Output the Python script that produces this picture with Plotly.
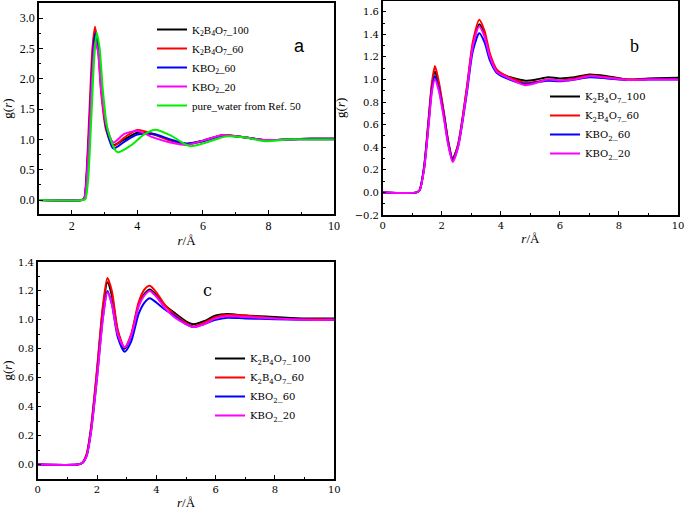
import plotly.graph_objects as go

# ---------------- data ----------------
# panel a
r_a = [1.0, 2.3, 2.38, 2.45, 2.55, 2.63, 2.71, 2.8, 2.9, 3.05, 3.27, 3.6, 4.0, 4.5,
       5.0, 5.5, 6.0, 6.6, 7.2, 7.9, 8.6, 9.3, 10.0]
a_k2b4o7_100 = [0, 0, 0.02, 0.35, 1.35, 2.3, 2.8, 2.55, 1.85, 1.2, 0.91, 1.0, 1.11, 1.08,
                0.99, 0.93, 0.98, 1.07, 1.04, 0.99, 1.0, 1.01, 1.01]
a_k2b4o7_60 = [0, 0, 0.03, 0.45, 1.6, 2.5, 2.86, 2.5, 1.75, 1.15, 0.89, 1.03, 1.155, 1.09,
               0.98, 0.92, 0.97, 1.07, 1.04, 0.99, 1.0, 1.01, 1.01]
a_kbo2_60 = [0, 0, 0.02, 0.35, 1.35, 2.25, 2.74, 2.6, 1.95, 1.2, 0.85, 0.96, 1.08, 1.09,
             1.0, 0.93, 0.97, 1.06, 1.04, 0.99, 1.0, 1.01, 1.01]
a_kbo2_20 = [0, 0, 0.02, 0.3, 1.25, 2.1, 2.6, 2.45, 1.8, 1.25, 0.95, 1.09, 1.14, 1.03,
             0.95, 0.91, 0.98, 1.07, 1.04, 0.99, 1.0, 1.0, 1.0]
r_water = [1.0, 2.35, 2.42, 2.5, 2.6, 2.68, 2.76, 2.85, 2.95, 3.1, 3.39, 3.8, 4.2, 4.55,
           5.0, 5.6, 6.1, 6.7, 7.3, 7.9, 8.6, 9.3, 10.0]
a_water = [0, 0, 0.02, 0.35, 1.4, 2.3, 2.76, 2.5, 1.8, 1.15, 0.79, 0.9, 1.08, 1.16,
           1.07, 0.89, 0.95, 1.05, 1.03, 0.97, 1.0, 1.0, 1.0]

# panel b
r_b = [0, 1.15, 1.25, 1.4, 1.55, 1.67, 1.77, 1.9, 2.07, 2.22, 2.37, 2.55, 2.85, 3.05, 3.27,
       3.45, 3.63, 3.86, 4.2, 4.82, 5.2, 5.6, 6.0, 6.5, 7.0, 7.6, 8.3, 9.0, 10.0]
b_k2b4o7_100 = [0, 0, 0.02, 0.22, 0.62, 0.95, 1.07, 0.95, 0.7, 0.45, 0.30, 0.42, 0.92, 1.3, 1.49,
                1.4, 1.21, 1.08, 1.03, 0.99, 1.0, 1.02, 1.01, 1.02, 1.045, 1.03, 1.0, 1.01, 1.015]
b_k2b4o7_60 = [0, 0, 0.02, 0.22, 0.64, 0.98, 1.12, 0.98, 0.71, 0.45, 0.29, 0.42, 0.93, 1.33, 1.53,
               1.43, 1.23, 1.09, 1.03, 0.97, 0.98, 1.0, 0.99, 1.01, 1.035, 1.02, 1.0, 1.005, 1.005]
b_kbo2_60 = [0, 0, 0.02, 0.21, 0.6, 0.92, 1.03, 0.92, 0.68, 0.43, 0.28, 0.40, 0.88, 1.25, 1.41,
             1.33, 1.17, 1.06, 1.01, 0.96, 0.975, 0.99, 0.985, 1.0, 1.02, 1.01, 0.995, 1.0, 1.0]
b_kbo2_20 = [0, 0, 0.02, 0.2, 0.58, 0.9, 1.0, 0.9, 0.66, 0.42, 0.27, 0.40, 0.9, 1.29, 1.47,
             1.38, 1.2, 1.07, 1.02, 0.95, 0.97, 1.0, 0.99, 1.0, 1.03, 1.015, 0.995, 1.0, 1.0]

# panel c
r_c = [0, 1.35, 1.5, 1.65, 1.8, 2.0, 2.2, 2.35, 2.5, 2.7, 2.93, 3.15, 3.4, 3.6, 3.78, 4.0,
       4.3, 4.6, 5.0, 5.25, 5.6, 6.0, 6.4, 7.0, 8.0, 9.0, 10.0]
c_k2b4o7_100 = [0, 0, 0.01, 0.07, 0.25, 0.64, 1.08, 1.26, 1.17, 0.92, 0.80, 0.89, 1.1, 1.18, 1.21, 1.17,
                1.1, 1.05, 0.99, 0.97, 0.99, 1.03, 1.04, 1.03, 1.02, 1.01, 1.01]
c_k2b4o7_60 = [0, 0, 0.01, 0.07, 0.26, 0.66, 1.1, 1.29, 1.2, 0.93, 0.81, 0.9, 1.12, 1.21, 1.235, 1.19,
               1.1, 1.04, 0.98, 0.955, 0.98, 1.02, 1.035, 1.03, 1.01, 1.005, 1.005]
c_kbo2_60 = [0, 0, 0.01, 0.06, 0.23, 0.6, 1.02, 1.2, 1.11, 0.88, 0.78, 0.85, 1.04, 1.12, 1.15, 1.12,
             1.07, 1.03, 0.97, 0.95, 0.97, 1.0, 1.015, 1.01, 1.005, 1.0, 1.0]
c_kbo2_20 = [0, 0, 0.01, 0.06, 0.23, 0.6, 1.01, 1.19, 1.11, 0.9, 0.81, 0.89, 1.09, 1.17, 1.2, 1.16,
             1.08, 1.02, 0.97, 0.95, 0.97, 1.01, 1.025, 1.02, 1.01, 1.0, 1.0]

names = ["K<sub>2</sub>B<sub>4</sub>O<sub>7</sub>_100", "K<sub>2</sub>B<sub>4</sub>O<sub>7</sub>_60",
         "KBO<sub>2</sub>_60", "KBO<sub>2</sub>_20", "pure_water from Ref. 50"]
colors = ["#000000", "#ff0000", "#0000ff", "#ff00ff", "#00ee00"]

fig = go.Figure()

def add(x, y, i, xa, ya, leg):
    fig.add_trace(go.Scatter(x=x, y=y, mode="lines", name=names[i],
                             line=dict(color=colors[i], width=2, shape="spline", smoothing=0.7),
                             xaxis=xa, yaxis=ya, legend=leg))

add(r_a, a_k2b4o7_100, 0, "x", "y", "legend")
add(r_a, a_k2b4o7_60, 1, "x", "y", "legend")
add(r_a, a_kbo2_60, 2, "x", "y", "legend")
add(r_a, a_kbo2_20, 3, "x", "y", "legend")
add(r_water, a_water, 4, "x", "y", "legend")

add(r_b, b_k2b4o7_100, 0, "x2", "y2", "legend2")
add(r_b, b_k2b4o7_60, 1, "x2", "y2", "legend2")
add(r_b, b_kbo2_60, 2, "x2", "y2", "legend2")
add(r_b, b_kbo2_20, 3, "x2", "y2", "legend2")

add(r_c, c_k2b4o7_100, 0, "x3", "y3", "legend3")
add(r_c, c_k2b4o7_60, 1, "x3", "y3", "legend3")
add(r_c, c_kbo2_60, 2, "x3", "y3", "legend3")
add(r_c, c_kbo2_20, 3, "x3", "y3", "legend3")

W, H = 684, 511
serif_a = "Liberation Serif"
serif_b = "DejaVu Serif"

def xax(l, r, rng, anchor, fam, fs):
    return dict(domain=[l / W, r / W], range=rng, anchor=anchor, dtick=2, tick0=0,
                automargin=False, ticklabeloverflow="allow",
                showline=True, linecolor="black", linewidth=1.5, mirror=True,
                ticks="inside", ticklen=4, tickwidth=1.2, tickcolor="black",
                minor=dict(dtick=1, ticks="inside", ticklen=2.5, tickcolor="black", tickwidth=1),
                showgrid=False, zeroline=False,
                tickfont=dict(family=fam, size=fs, color="black"),
                title=dict(text="<i>r</i>/Å", font=dict(family=serif_a, size=13, color="black"), standoff=4))

def yax(t, b, rng, dt, fmt, anchor, fam, fs):
    return dict(domain=[1 - b / H, 1 - t / H], range=rng, anchor=anchor, dtick=dt, tick0=0,
                tickformat=fmt, automargin=False, ticklabeloverflow="allow",
                showline=True, linecolor="black", linewidth=1.5, mirror=True,
                ticks="inside", ticklen=4, tickwidth=1.2, tickcolor="black",
                minor=dict(dtick=dt / 2, ticks="inside", ticklen=2.5, tickcolor="black", tickwidth=1),
                showgrid=False, zeroline=False,
                tickfont=dict(family=fam, size=fs, color="black"),
                title=dict(text="g(<i>r</i>)", font=dict(family=serif_a, size=13, color="black"), standoff=6))

def leg(x, ytop, fam, fs):
    return dict(x=x / W, y=1 - ytop / H, xanchor="left", yanchor="top",
                bgcolor="rgba(0,0,0,0)", borderwidth=0, tracegroupgap=0,
                font=dict(family=fam, size=fs, color="black"), itemwidth=30)

fig.update_layout(
    width=W, height=H, margin=dict(l=0, r=0, t=0, b=0),
    paper_bgcolor="white", plot_bgcolor="white",
    xaxis=xax(39, 334, [1, 10], "y", serif_a, 12),
    yaxis=yax(3, 214, [-0.23, 3.25], 0.5, ".1f", "x", serif_a, 12),
    xaxis2=xax(382.7, 678, [0, 10], "y2", serif_b, 10),
    yaxis2=yax(0.5, 215, [-0.2, 1.7], 0.2, ".1f", "x2", serif_b, 10),
    xaxis3=xax(37.7, 334.3, [0, 10], "y3", serif_b, 10),
    yaxis3=yax(262, 479, [-0.1, 1.4], 0.2, ".1f", "x3", serif_b, 10),
    legend=leg(152, 15, serif_a, 11),
    legend2=leg(545, 82, serif_b, 10),
    legend3=leg(210, 344, serif_b, 10),
    showlegend=True,
    annotations=[
        dict(text="a", x=299 / W, y=1 - 34 / H, xref="paper", yref="paper", showarrow=False,
             font=dict(family="Liberation Sans", size=18, color="black")),
        dict(text="b", x=641 / W, y=1 - 34 / H, xref="paper", yref="paper", showarrow=False,
             font=dict(family=serif_a, size=18, color="black")),
        dict(text="c", x=201 / W, y=1 - 290 / H, xref="paper", yref="paper", showarrow=False,
             font=dict(family=serif_b, size=16, color="black")),
    ],
)

fig.write_html("out.html", config={"displayModeBar": False},
               post_script="document.body.style.margin='0px';document.body.style.overflow='hidden';")
